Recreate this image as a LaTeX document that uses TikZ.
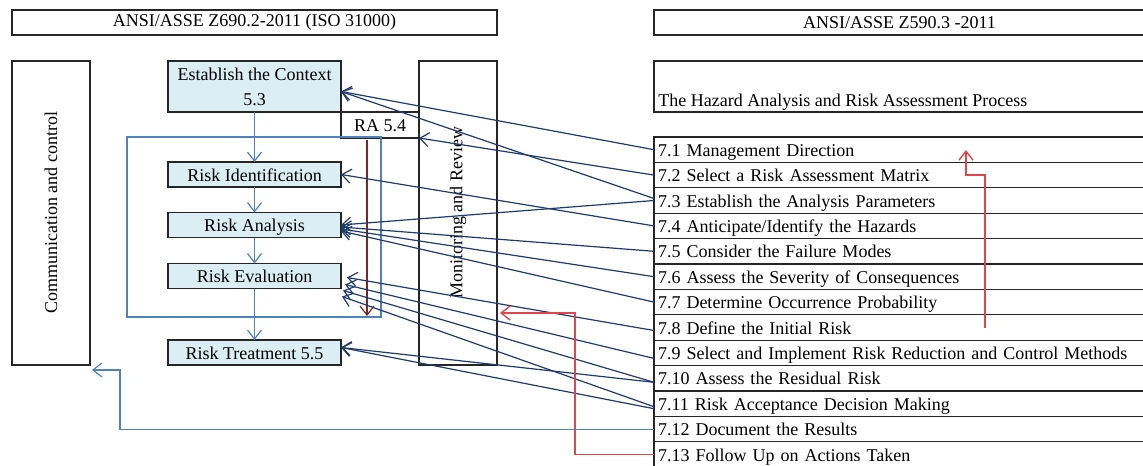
\documentclass[tikz,border=0pt]{standalone}
\usepackage{fontspec}
\setmainfont{Liberation Serif}
\usetikzlibrary{positioning,arrows.meta}
\definecolor{boxfill}{HTML}{DAEEF3}
\definecolor{flowblue}{HTML}{4F81BD}
\definecolor{linkblue}{HTML}{1F3A6E}
\definecolor{raline}{HTML}{7B2525}
\definecolor{backred}{HTML}{E0454A}

\tikzset{
  txt/.style={font=\fontsize{9}{12.5}\selectfont},
  oneline/.style={text height=7.5pt, text depth=1pt},
  frame/.style={draw=black!85, line width=0.6pt, inner sep=0pt, outer sep=0pt, txt},
  ctxbox/.style={frame, fill=boxfill, minimum width=86.5pt},
  stepbox/.style={ctxbox, oneline, minimum height=12.5pt},
  sidebox/.style={frame, rotate=90, minimum width=152pt, minimum height=39pt},
  item/.style={frame, oneline, text width=241.5pt, align=left, inner xsep=2pt, minimum height=12.7pt},
  tip/.style={-{Straight Barb[length=4.5pt,width=7pt]}},
  flow/.style={draw=flowblue, line width=0.6pt},
  flowarrow/.style={flow, tip},
  link/.style={draw=linkblue, line width=0.6pt, tip},
  back/.style={draw=backred, line width=0.7pt, tip},
}

\begin{document}
\begin{tikzpicture}[x=0.5pt,y=-0.5pt]
\useasboundingbox (0,0) rectangle (1143,465);

% headers
\node[frame, minimum width=242.5pt, minimum height=12.5pt] (isohead) at (254.5,22.5) {ANSI/ASSE Z690.2-2011 (ISO 31000)};
\node[frame, minimum width=245.5pt, minimum height=12.5pt, anchor=north west] (ansihead) at (654,10) {ANSI/ASSE Z590.3 -2011};

% ISO 31000 side
\node[sidebox] (comm) at (51,213) {Communication and control};
\node[sidebox] (mon) at (458,213) {Monitoring and Review};
\node[ctxbox, minimum height=25.5pt, align=center] (ctx) at (254.5,86.5) {Establish the Context\\5.3};
\node[frame, oneline, minimum width=39pt, minimum height=13pt, anchor=north west] (ra) at (ctx.south east) {RA 5.4};
\node[stepbox, below=25pt of ctx] (rid) {Risk Identification};
\node[stepbox, below=12.75pt of rid] (ran) {Risk Analysis};
\node[stepbox, below=13pt of ran] (rev) {Risk Evaluation};
\node[stepbox, below=25.75pt of rev] (rtr) {Risk Treatment 5.5};
\draw[flow] (127,137) rectangle (381,317);
\draw[flowarrow] (ctx) -- (rid);
\draw[flowarrow] (rid) -- (ran);
\draw[flowarrow] (ran) -- (rev);
\draw[flowarrow] (rev) -- (rtr);
\draw[draw=raline, line width=0.6pt, tip] ([xshift=-6.5pt,yshift=-1pt]ra.south) -- ++(0,176);

% Z590.3 side
\node[frame, minimum width=245.5pt, minimum height=25.5pt, anchor=north west] (haz) at (654,61) {};
\node[txt, anchor=base west, inner sep=0pt] (haztxt) at ([xshift=2pt,yshift=3pt]haz.south west) {The Hazard Analysis and Risk Assessment Process};
\node[item, anchor=north west] (r1) at (654,137) {7.1 Management Direction};
\node[item, below=0pt of r1] (r2) {7.2 Select a Risk Assessment Matrix};
\node[item, below=0pt of r2] (r3) {7.3 Establish the Analysis Parameters};
\node[item, below=0pt of r3] (r4) {7.4 Anticipate/Identify the Hazards};
\node[item, below=0pt of r4] (r5) {7.5 Consider the Failure Modes};
\node[item, below=0pt of r5] (r6) {7.6 Assess the Severity of Consequences};
\node[item, below=0pt of r6] (r7) {7.7 Determine Occurrence Probability};
\node[item, below=0pt of r7] (r8) {7.8 Define the Initial Risk};
\node[item, below=0pt of r8] (r9) {7.9 Select and Implement Risk Reduction and Control Methods};
\node[item, below=0pt of r9] (r10) {7.10 Assess the Residual Risk};
\node[item, below=0pt of r10] (r11) {7.11 Risk Acceptance Decision Making};
\node[item, below=0pt of r11] (r12) {7.12 Document the Results};
\node[item, below=0pt of r12] (r13) {7.13 Follow Up on Actions Taken};

% links between the two standards
\draw[link] (r1.west) -- ([yshift=-2.5pt]ctx.east);
\draw[link] (r2.west) -- (ra.south east);
\draw[link] ([yshift=1pt]r3.west) -- ([yshift=-2.5pt]ctx.east);
\draw[link] (r3.west) -- (ran.east);
\draw[link] (r4.west) -- (rid.east);
\draw[link] (r5.west) -- ([yshift=-1pt]ran.east);
\draw[link] (r6.west) -- ([yshift=-2pt]ran.east);
\draw[link] (r7.west) -- ([yshift=-3pt]ran.east);
\draw[link] ([yshift=-1.5pt]r8.west) -- ([xshift=3pt,yshift=-0.75pt]rev.east);
\draw[link] ([yshift=-2.75pt]r9.west) -- ([xshift=2pt,yshift=-4.25pt]rev.east);
\draw[link] ([yshift=-2pt]r10.west) -- ([xshift=1pt,yshift=-7.25pt]rev.east);
\draw[link] ([yshift=-1.5pt]r11.west) -- ([xshift=0.5pt,yshift=-10.25pt]rev.east);
\draw[link] ([yshift=-2pt]r10.west) -- ([yshift=2.5pt]rtr.east);
\draw[link] ([yshift=-2.5pt]r11.west) -- ([yshift=2.5pt]rtr.east);

% feedback paths
\coordinate (fu) at (575,313);
\coordinate (fuend) at (500,313);
\draw[back] (r13.west) -| (fu) -- (fuend);
\coordinate (mdup) at (985,175);
\coordinate (mdend) at (966,150);
\draw[back] (mdup |- r8.west) -- (mdup) -| (mdend);
\coordinate (cc) at (120,370);
\coordinate (ccend) at (92,370);
\draw[flowarrow] (r12.west) -| (cc) -- (ccend);
\end{tikzpicture}
\end{document}
